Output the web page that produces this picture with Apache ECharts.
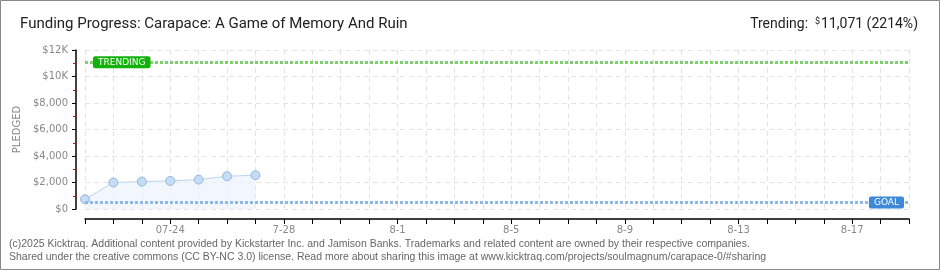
<!DOCTYPE html>
<html><head><meta charset="utf-8">
<script src="https://cdn.jsdelivr.net/npm/echarts@6/dist/echarts.min.js"></script>
<style>html,body{margin:0;padding:0;background:#fff}#c{width:940px;height:270px}</style>
</head><body><div id="c"></div>
<script>
const categories = ['7-21','7-22','7-23','07-24','7-25','7-26','7-27','7-28','7-29','7-30','7-31','8-1','8-2','8-3','8-4','8-5','8-6','8-7','8-8','8-9','8-10','8-11','8-12','8-13','8-14','8-15','8-16','8-17','8-18','8-19'];
const pledged = [730, 2000, 2070, 2120, 2220, 2470, 2550];
const goal = 500;
const trending = 11071;
const trendingPct = 2214;
const titleText = 'Funding Progress: Carapace: A Game of Memory And Ruin';
const footer = ['(c)2025 Kicktraq. Additional content provided by Kickstarter Inc. and Jamison Banks. Trademarks and related content are owned by their respective companies.',
 'Shared under the creative commons (CC BY-NC 3.0) license. Read more about sharing this image at www.kicktraq.com/projects/soulmagnum/carapace-0/#sharing'];

const chart = echarts.init(document.getElementById('c'), null, {renderer: 'canvas'});
const fmtMoney = v => v >= 10000 ? '$' + (v / 1000) + 'K' : '$' + v.toLocaleString('en-US');
chart.setOption({
  backgroundColor: '#fff',
  animation: false,
  title: [
    {text: titleText, left: 15, top: 12, textStyle: {fontFamily: 'Roboto, sans-serif', fontSize: 15, fontWeight: 'normal', color: '#222'}},
    {text: '{a|Trending:  }{s|$}{a|' + trending.toLocaleString('en-US') + ' (' + trendingPct + '%)}', right: 17, top: 12,
     textStyle: {fontWeight: 'normal', rich: {a: {fontFamily: 'Roboto, sans-serif', fontSize: 14, fontWeight: 'normal', color: '#222'}, s: {fontFamily: 'Roboto, sans-serif', fontSize: 9, fontWeight: 'normal', color: '#222', verticalAlign: 'top', padding: [0, 1, 6, 0]}}}},
    {text: footer.join('\n'), left: 4, top: 233, textStyle: {fontFamily: 'Liberation Sans, Arial, sans-serif', fontSize: 10.5, fontWeight: 'normal', color: '#666', lineHeight: 13}}
  ],
  graphic: [{type: 'rect', shape: {x: 0.5, y: 0.5, width: 939, height: 269}, style: {fill: 'none', stroke: '#888', lineWidth: 1}, silent: true}],
  grid: {left: 85, right: 31, top: 50, bottom: 61},
  xAxis: {
    type: 'category', data: categories, boundaryGap: false, offset: 10,
    axisLine: {show: true, onZero: false, lineStyle: {color: '#000', width: 1.5}},
    axisTick: {show: true, interval: 0, length: 5, lineStyle: {color: '#000', width: 1}},
    axisLabel: {interval: (i) => i % 4 === 3, color: '#888', fontFamily: 'DejaVu Sans, sans-serif', fontSize: 10, margin: 6},
    splitLine: {show: true, interval: 0, lineStyle: {color: '#e4e4e4', type: [5, 4]}}
  },
  yAxis: {
    type: 'value', min: 0, max: 12000, interval: 2000, offset: 9,
    name: 'PLEDGED', nameLocation: 'middle', nameGap: 47, nameRotate: 90,
    nameTextStyle: {color: '#888', fontFamily: 'DejaVu Sans, sans-serif', fontSize: 10},
    axisLine: {show: true, onZero: false, lineStyle: {color: '#000', width: 1.5}},
    axisTick: {show: true, length: 4, lineStyle: {color: '#000', width: 1}},
    minorTick: {show: true, splitNumber: 2, length: 3, lineStyle: {color: '#e00', width: 1}},
    axisLabel: {formatter: fmtMoney, color: '#888', fontFamily: 'DejaVu Sans, sans-serif', fontSize: 10, margin: 8},
    splitLine: {show: true, lineStyle: {color: '#e4e4e4', type: [5, 4]}}
  },
  series: [{
    type: 'line', data: pledged, symbol: 'circle', symbolSize: 9,
    lineStyle: {color: '#b9d5f2', width: 1},
    itemStyle: {color: '#c4dcf6', borderColor: '#96b7dc', borderWidth: 1},
    areaStyle: {color: '#edf4fc'},
    markLine: {
      silent: true, symbol: 'none',
      data: [
        {yAxis: trending, lineStyle: {color: '#7dd06d', width: 3, type: [3, 2]},
         label: {show: true, position: 'insideStart', distance: 8, formatter: 'TRENDING', color: '#fff', backgroundColor: '#12b20a', borderRadius: 2, padding: [2, 5, 1, 5], fontFamily: 'DejaVu Sans, sans-serif', fontSize: 9}},
        {yAxis: goal, lineStyle: {color: '#8ab9ea', width: 3, type: [3, 2]},
         label: {show: true, position: 'insideEnd', distance: 5, formatter: 'GOAL', color: '#fff', backgroundColor: '#3d89d8', borderRadius: 2, padding: [2, 5, 1, 5], fontFamily: 'DejaVu Sans, sans-serif', fontSize: 9}}
      ]
    }
  }]
});
</script></body></html>
